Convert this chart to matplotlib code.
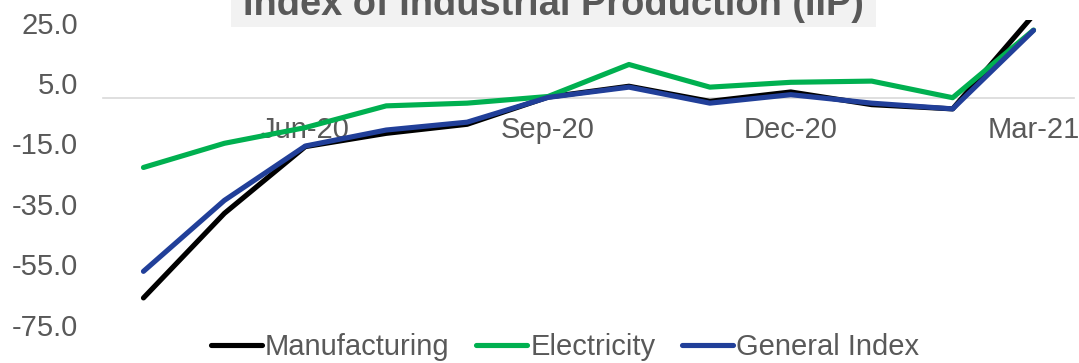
import matplotlib
matplotlib.use("Agg")
import matplotlib.pyplot as plt
from matplotlib.patches import Rectangle
from matplotlib.ticker import FixedLocator, FuncFormatter

months = ["Apr-20", "May-20", "Jun-20", "Jul-20", "Aug-20", "Sep-20",
          "Oct-20", "Nov-20", "Dec-20", "Jan-21", "Feb-21", "Mar-21"]
manufacturing = [-66.2, -38.2, -16.1, -11.7, -8.7, 0.3, 3.9, -1.1, 2.0, -2.2, -3.6, 27.5]
electricity = [-23.0, -15.0, -9.8, -2.6, -1.7, 0.5, 11.1, 3.6, 5.2, 5.6, 0.1, 22.5]
general_index = [-57.4, -33.9, -15.9, -10.6, -8.0, 0.2, 3.6, -1.7, 1.1, -1.7, -3.6, 22.4]
shown_ticks = ["Jun-20", "Sep-20", "Dec-20", "Mar-21"]
y_ticks = [-75, -55, -35, -15, 5, 25]
title = "Index of Industrial Production (IIP)"

plt.rcParams['font.family'] = ['Liberation Sans', 'DejaVu Sans']
TXT = '#595959'

W, H = 1079, 363
fig = plt.figure(figsize=(W / 100, H / 100), dpi=100)
ax = fig.add_axes([103 / W, 1 - 324.5 / H, (1074 - 103) / W, (324.5 - 20.4) / H])

x = list(range(len(months)))
series = [("Manufacturing", manufacturing, "#000000"),
          ("Electricity", electricity, "#00B050"),
          ("General Index", general_index, "#213F99")]
for name, vals, col in series:
    ax.plot(x, vals, color=col, lw=3.7, label=name,
            solid_capstyle='round', solid_joinstyle='round')

ax.set_xlim(-0.5, len(months) - 0.5)
ax.set_ylim(-75, 25.7)
ax.yaxis.set_major_locator(FixedLocator(y_ticks))
ax.yaxis.set_major_formatter(FuncFormatter(lambda v, p: f"{v:.1f}"))
tick_pos = [months.index(m) for m in shown_ticks]
ax.set_xticks(tick_pos)
ax.set_xticklabels(shown_ticks)

for s in ['left', 'right', 'top']:
    ax.spines[s].set_visible(False)
ax.spines['bottom'].set_position(('data', 0))
ax.spines['bottom'].set_color('#D9D9D9')
ax.spines['bottom'].set_linewidth(1.2)
ax.spines['bottom'].set_zorder(0)
ax.tick_params(axis='both', length=0, labelsize=21, labelcolor=TXT)
ax.tick_params(axis='y', pad=18)
ax.tick_params(axis='x', pad=13)

# Title with light box, cut off at top
fig.patches.append(Rectangle((231 / W, 1 - 27 / H), (876 - 231) / W, 40 / H,
                             transform=fig.transFigure, facecolor='#F2F2F2',
                             edgecolor='none', zorder=0))
fig.text(553 / W, 1 - 15 / H, title, ha='center', va='baseline',
         fontsize=27.4, fontweight='bold', color=TXT, zorder=2)

leg = fig.legend(loc='center', bbox_to_anchor=(565 / W, 1 - 347 / H), ncol=3,
                 frameon=False, fontsize=21, handlelength=1.75,
                 handletextpad=0.12, columnspacing=0.9, borderaxespad=0)
for t in leg.get_texts():
    t.set_color(TXT)

fig.savefig("out.png", dpi=100)
